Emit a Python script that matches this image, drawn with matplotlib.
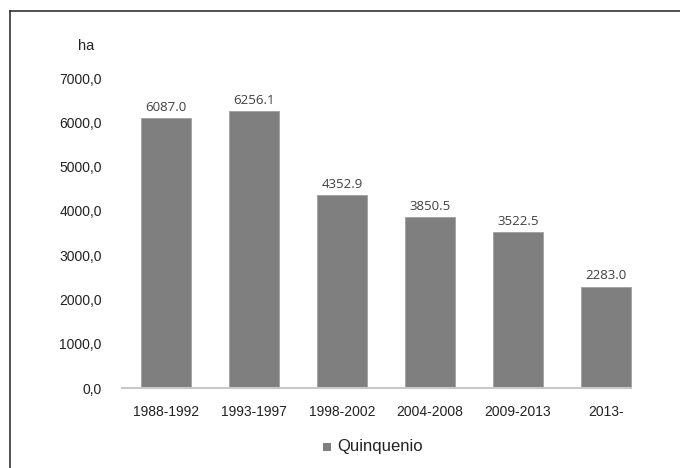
import matplotlib
matplotlib.use("Agg")
import matplotlib.pyplot as plt
from matplotlib.lines import Line2D
from matplotlib.patches import Rectangle

periods = ["1988-1992", "1993-1997", "1998-2002", "2004-2008", "2009-2013", "2013-"]
hectares = [6087.0, 6256.1, 4352.9, 3850.5, 3522.5, 2283.0]
y_ticks = [0, 1000, 2000, 3000, 4000, 5000, 6000, 7000]
y_tick_labels = ["0,0", "1000,0", "2000,0", "3000,0", "4000,0", "5000,0", "6000,0", "7000,0"]
series_name = "Quinquenio"
unit = "ha"

W, H = 680, 468
fig = plt.figure(figsize=(W / 100, H / 100), dpi=100)

# axes box in pixel coordinates
left, right, bottom, top = 122, 650, 388, 78
ax = fig.add_axes([left / W, 1 - bottom / H, (right - left) / W, (bottom - top) / H])

bar_color = "#7f7f7f"
bar_w = 0.57
x = range(len(periods))
ax.bar(x, hectares, width=bar_w, color=bar_color, edgecolor="#a0a0a0", linewidth=0.6)

for xi, v in zip(x, hectares):
    ax.text(xi, v + 100, f"{v:.1f}", ha="center", va="bottom",
            fontsize=9.5, color="#404040", family="Open Sans")

ax.set_xlim(-0.5, len(periods) - 0.5)
ax.set_ylim(0, 7000)
ax.set_yticks(y_ticks)
ax.set_yticklabels(y_tick_labels, family="Liberation Sans", fontsize=10, color="#222222")
ax.set_xticks(list(x))
ax.set_xticklabels(periods, family="Liberation Sans", fontsize=10, color="#222222")
ax.tick_params(axis="both", length=0)
ax.tick_params(axis="y", pad=14.5)
ax.tick_params(axis="x", pad=12)

for s in ["top", "right", "left"]:
    ax.spines[s].set_visible(False)
ax.spines["bottom"].set_color("#c8c8c8")
ax.spines["bottom"].set_linewidth(1.5)
ax.spines["bottom"].set_bounds(-0.5, len(periods) - 1 + bar_w / 2)

# unit label above the value axis
fig.text(86 / W, 1 - 46 / H, unit, ha="center", va="center",
         fontsize=10.5, family="Liberation Sans", color="#222222")

# legend
fig.patches.append(Rectangle((323 / W, 1 - 451 / H), 8 / W, 8 / H,
                             transform=fig.transFigure, facecolor=bar_color,
                             edgecolor="none"))
fig.text(337 / W, 1 - 447 / H, series_name, ha="left", va="center",
         fontsize=12, family="Liberation Sans", color="#222222")

# outer frame (top and left edges)
fig.add_artist(Line2D([9.5 / W, 1], [1 - 11 / H, 1 - 11 / H], transform=fig.transFigure,
                      color="#333333", linewidth=1.2))
fig.add_artist(Line2D([9.5 / W, 9.5 / W], [0, 1 - 11 / H], transform=fig.transFigure,
                      color="#333333", linewidth=1.2))

fig.savefig("out.png", dpi=100)
